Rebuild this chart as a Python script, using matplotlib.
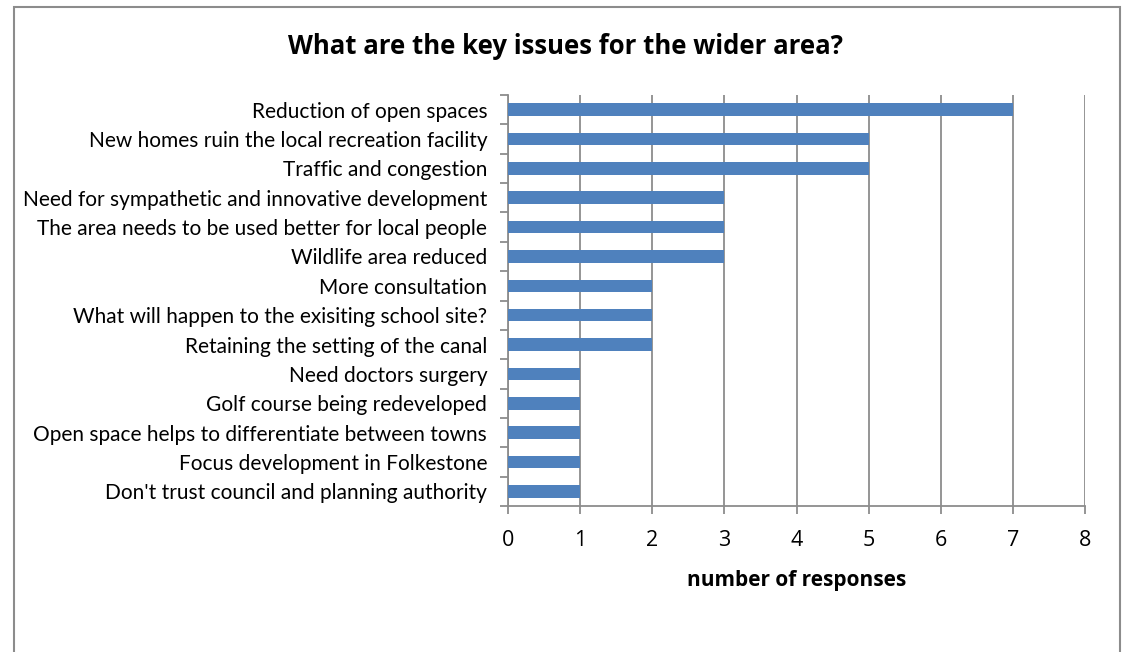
import matplotlib
matplotlib.use("Agg")
import matplotlib.pyplot as plt
from matplotlib.patches import Rectangle
import numpy as np

categories = [
    "Reduction of open spaces",
    "New homes ruin the local recreation facility",
    "Traffic and congestion",
    "Need for sympathetic and innovative development",
    "The area needs to be used better for local people",
    "Wildlife area reduced",
    "More consultation",
    "What will happen to the exisiting school site?",
    "Retaining the setting of the canal",
    "Need doctors surgery",
    "Golf course being redeveloped",
    "Open space helps to differentiate between towns",
    "Focus development in Folkestone",
    "Don't trust council and planning authority",
]
values = [7, 5, 5, 3, 3, 3, 2, 2, 2, 1, 1, 1, 1, 1]
xticks = [0, 1, 2, 3, 4, 5, 6, 7, 8]

W, H = 1124, 652
fig = plt.figure(figsize=(W / 100, H / 100), dpi=100)
fig.patch.set_facecolor("white")

# outer frame
fig.add_artist(Rectangle((14 / W, -0.05), (1120 - 14) / W, 1.05 - 7 / H,
                         transform=fig.transFigure, fill=False,
                         edgecolor="#8c8c8c", linewidth=1.5))

ax = fig.add_axes([508 / W, 1 - 506 / H, (1085 - 508) / W, (506 - 95) / H])
y = np.arange(len(categories))
ax.barh(y, values, height=0.43, color="#4f81bd", zorder=3)
ax.set_ylim(len(categories) - 0.5, -0.5)
ax.set_xlim(0, 8)
ax.set_xticks(xticks)
ax.set_xticklabels([str(t) for t in xticks], fontsize=15.5, family="Open Sans")
ax.set_yticks(y)
ax.set_yticklabels(categories, fontsize=15, family="Lato", color="black")
ax.set_yticks(np.arange(len(categories) + 1) - 0.5, minor=True)
ax.tick_params(axis="y", which="major", length=0, pad=15)
ax.tick_params(axis="y", which="minor", length=6, width=1.3, color="#8c8c8c", direction="out")
ax.tick_params(axis="x", length=6, width=1.3, color="#8c8c8c", direction="out", pad=11)
ax.grid(axis="x", color="#8c8c8c", linewidth=1.3, zorder=0)
for s in ["top", "right"]:
    ax.spines[s].set_visible(False)
for s in ["left", "bottom"]:
    ax.spines[s].set_color("#8c8c8c")
    ax.spines[s].set_linewidth(1.3)
ax.set_xlabel("number of responses", fontsize=15, fontweight="bold", family="Open Sans", labelpad=14)

fig.text(565 / W, 1 - 46 / H, "What are the key issues for the wider area?",
         ha="center", va="center", fontsize=18.5, fontweight="bold", family="Open Sans")

fig.savefig("out.png", dpi=100)
